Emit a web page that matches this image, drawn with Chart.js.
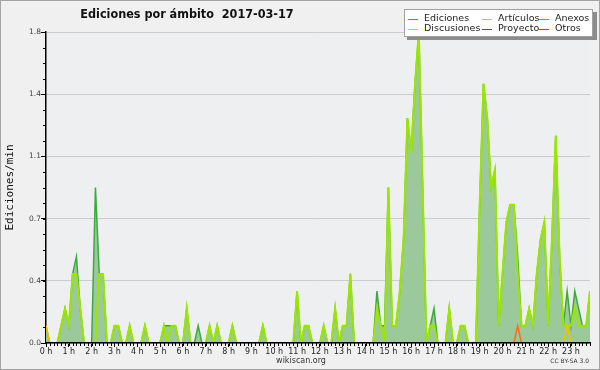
<!DOCTYPE html>
<html>
<head>
<meta charset="utf-8">
<script src="https://cdn.jsdelivr.net/npm/chart.js@4.4.1/dist/chart.umd.min.js"></script>
<style>
  html, body { margin: 0; padding: 0; background: #f0f0f0; }
</style>
</head>
<body>
<canvas id="chart-ediciones" width="600" height="370"></canvas>
<script>
const titleText = 'Ediciones por ámbito  2017-03-17';
const yAxisTitle = 'Ediciones/min';
const footerSite = 'wikiscan.org';
const footerLicense = 'CC BY-SA 3.0';

// one point every 10 minutes, in minutes since 00:00
const slots = Array.from({length: 144}, (_, i) => i * 10);

const hourTicks = [0, 60, 120, 180, 240, 300, 360, 420, 480, 540, 600, 660,
                   720, 780, 840, 900, 960, 1020, 1080, 1140, 1200, 1260, 1320, 1380];
const hourLabels = ['0 h', '1 h', '2 h', '3 h', '4 h', '5 h', '6 h', '7 h', '8 h', '9 h', '10 h', '11 h',
                    '12 h', '13 h', '14 h', '15 h', '16 h', '17 h', '18 h', '19 h', '20 h', '21 h', '22 h', '23 h'];

const yTicks = [0, 0.36, 0.72, 1.08, 1.44, 1.8];
const yTickLabels = ['0.0', '0.4', '0.7', '1.1', '1.4', '1.8'];

// each row = 2 hours (12 slots)
const ediciones = [
  0.1, 0, 0, 0, 0.1, 0.2, 0.1, 0.4, 0.5, 0.2, 0, 0,
  0, 0.9, 0.4, 0.4, 0, 0, 0.1, 0.1, 0, 0, 0.1, 0,
  0, 0, 0.1, 0, 0, 0, 0, 0.1, 0.1, 0.1, 0.1, 0,
  0, 0.2, 0, 0, 0.1, 0, 0, 0.1, 0, 0.1, 0, 0,
  0, 0.1, 0, 0, 0, 0, 0, 0, 0, 0.1, 0, 0,
  0, 0, 0, 0, 0, 0, 0.3, 0, 0.1, 0.1, 0, 0,
  0, 0.1, 0, 0, 0.2, 0, 0.1, 0.1, 0.4, 0, 0, 0,
  0, 0, 0, 0.3, 0.1, 0.1, 0.9, 0.1, 0.1, 0.3, 0.6, 1.3,
  1.1, 1.5, 1.8, 0.9, 0, 0.1, 0.2, 0, 0, 0, 0.2, 0,
  0, 0.1, 0.1, 0, 0, 0, 0.8, 1.5, 1.3, 0.9, 1.0, 0.1,
  0.4, 0.7, 0.8, 0.8, 0.5, 0.1, 0.1, 0.2, 0.1, 0.4, 0.6, 0.7,
  0.1, 0.6, 1.2, 0.5, 0.1, 0.3, 0.1, 0.3, 0.2, 0.1, 0.1, 0.3
];
const articulos = [
  0, 0, 0, 0, 0.1, 0.2, 0.1, 0.4, 0.4, 0.2, 0, 0,
  0, 0, 0.4, 0.4, 0, 0, 0.1, 0.1, 0, 0, 0.1, 0,
  0, 0, 0.1, 0, 0, 0, 0, 0.1, 0, 0.1, 0.1, 0,
  0, 0.2, 0, 0, 0, 0, 0, 0.1, 0, 0.1, 0, 0,
  0, 0.1, 0, 0, 0, 0, 0, 0, 0, 0.1, 0, 0,
  0, 0, 0, 0, 0, 0, 0.3, 0, 0.1, 0.1, 0, 0,
  0, 0.1, 0, 0, 0.2, 0, 0.1, 0.1, 0.4, 0, 0, 0,
  0, 0, 0, 0.2, 0.1, 0, 0.9, 0.1, 0.1, 0.3, 0.6, 1.3,
  1.1, 1.5, 1.8, 0.9, 0, 0.1, 0.1, 0, 0, 0, 0.2, 0,
  0, 0.1, 0.1, 0, 0, 0, 0.8, 1.5, 1.3, 0.9, 1.0, 0.1,
  0.4, 0.7, 0.8, 0.8, 0.4, 0.1, 0.1, 0.2, 0.1, 0.4, 0.6, 0.7,
  0.1, 0.6, 1.2, 0.5, 0.1, 0.1, 0.1, 0.2, 0.1, 0.1, 0.1, 0.3
];
const anexos = [
  0, 0, 0, 0, 0, 0, 0, 0, 0, 0, 0, 0,
  0, 0, 0, 0, 0, 0, 0, 0, 0, 0, 0, 0,
  0, 0, 0, 0, 0, 0, 0, 0, 0, 0, 0, 0,
  0, 0, 0, 0, 0, 0, 0, 0, 0, 0, 0, 0,
  0, 0, 0, 0, 0, 0, 0, 0, 0, 0, 0, 0,
  0, 0, 0, 0, 0, 0, 0, 0, 0, 0, 0, 0,
  0, 0, 0, 0, 0, 0, 0, 0, 0, 0, 0, 0,
  0, 0, 0, 0, 0, 0, 0, 0, 0, 0, 0, 0,
  0, 0, 0, 0, 0, 0, 0, 0, 0, 0, 0, 0,
  0, 0, 0, 0, 0, 0, 0, 0, 0, 0, 0, 0,
  0, 0, 0, 0, 0.1, 0, 0, 0, 0, 0, 0, 0,
  0, 0, 0, 0, 0, 0, 0, 0, 0, 0, 0, 0
];
const discusiones = [
  0.1, 0, 0, 0, 0, 0, 0, 0, 0, 0, 0, 0,
  0, 0, 0, 0, 0, 0, 0, 0, 0, 0, 0, 0,
  0, 0, 0, 0, 0, 0, 0, 0, 0, 0, 0, 0,
  0, 0, 0, 0, 0, 0, 0, 0, 0, 0, 0, 0,
  0, 0, 0, 0, 0, 0, 0, 0, 0, 0, 0, 0,
  0, 0, 0, 0, 0, 0, 0, 0, 0, 0, 0, 0,
  0, 0, 0, 0, 0, 0, 0, 0, 0, 0, 0, 0,
  0, 0, 0, 0, 0, 0, 0, 0, 0, 0, 0, 0,
  0, 0, 0, 0, 0, 0, 0, 0, 0, 0, 0, 0,
  0, 0, 0, 0, 0, 0, 0, 0, 0, 0, 0, 0,
  0, 0, 0, 0, 0, 0, 0, 0, 0, 0, 0, 0,
  0, 0, 0, 0, 0, 0.1, 0, 0, 0, 0, 0, 0
];
const proyecto = new Array(144).fill(0);
const otros = new Array(144).fill(0);

const FONT = "'DejaVu Sans', sans-serif";
const FONT_COND = "'DejaVu Sans Condensed', 'DejaVu Sans', sans-serif";
Chart.defaults.font.family = FONT;

const frame = {
    id: 'frame',
    beforeDraw(chart) {
        const {ctx, chartArea: a} = chart;
        ctx.save();
        ctx.fillStyle = '#f0f0f0';
        ctx.fillRect(0, 0, chart.width, chart.height);
        ctx.strokeStyle = '#a4a4a4';
        ctx.lineWidth = 1;
        ctx.strokeRect(0.5, 0.5, chart.width - 1, chart.height - 1);
        ctx.fillStyle = '#eeeff1';
        ctx.fillRect(a.left, a.top, a.right - a.left, a.bottom - a.top);
        ctx.restore();
    }
};

const extras = {
    id: 'extras',
    afterDraw(chart) {
        const {ctx, chartArea: a} = chart;
        const x = chart.scales.x, y = chart.scales.y;
        ctx.save();
        // minor ticks
        ctx.strokeStyle = '#000';
        ctx.lineWidth = 1;
        ctx.beginPath();
        slots.forEach(v => {
            const px = Math.round(x.getPixelForValue(v)) + 0.5;
            ctx.moveTo(px, a.bottom);
            ctx.lineTo(px, a.bottom + 3);
        });
        for (let k = 0; k <= 20; k++) {
            const py = Math.round(y.getPixelForValue(k * 0.09)) + 0.5;
            ctx.moveTo(a.left, py);
            ctx.lineTo(a.left - 3, py);
        }
        ctx.stroke();

        // title
        ctx.fillStyle = '#111';
        ctx.font = 'bold 12.5px ' + FONT_COND;
        ctx.textAlign = 'center';
        ctx.textBaseline = 'middle';
        ctx.fillText(titleText, 187, 15);

        // footer
        ctx.fillStyle = '#333';
        ctx.font = '8px ' + FONT;
        ctx.fillText(footerSite, 301, 361);
        ctx.font = '6px ' + FONT;
        ctx.textAlign = 'right';
        ctx.fillText(footerLicense, 589, 361);

        // legend box
        ctx.fillStyle = '#8c8c8c';
        ctx.fillRect(407, 12, 190, 28);
        ctx.fillStyle = '#ffffff';
        ctx.fillRect(404, 9, 189, 28);
        ctx.strokeStyle = '#a0a0a0';
        ctx.strokeRect(404.5, 9.5, 188, 27);
        const cols = [408, 482, 539];
        const rows = [19, 29];
        ctx.font = '9.5px ' + FONT;
        ctx.textAlign = 'left';
        chart.data.datasets.forEach((ds, k) => {
            const cx = cols[k % 3], cy = rows[Math.floor(k / 3)];
            ctx.strokeStyle = ds.borderColor;
            ctx.lineWidth = 1;
            ctx.beginPath();
            ctx.moveTo(cx, cy + 0.5);
            ctx.lineTo(cx + 10, cy + 0.5);
            ctx.stroke();
            ctx.fillStyle = '#222';
            ctx.fillText(ds.label, cx + 16, cy);
        });
        ctx.restore();
    }
};

const line = (label, data, color, order, more) => Object.assign({
    label: label,
    data: data,
    borderColor: color,
    backgroundColor: color,
    borderWidth: 1.5,
    pointRadius: 0,
    tension: 0,
    fill: false,
    clip: {left: 0, top: 2, right: 0, bottom: -1},
    order: order,
}, more || {});

new Chart(document.getElementById('chart-ediciones'), {
    type: 'line',
    data: {
        labels: slots,
        datasets: [
            line('Ediciones', ediciones, '#3fa93f', 6, {fill: 'origin', backgroundColor: '#9cc99c'}),
            line('Artículos', articulos, '#9de600', 3, {borderWidth: 2}),
            line('Anexos', anexos, '#ff6a1a', 1),
            line('Discusiones', discusiones, '#f2c200', 2),
            line('Proyecto', proyecto, '#555555', 5),
            line('Otros', otros, '#9933ff', 4),
        ]
    },
    options: {
        responsive: false,
        animation: false,
        layout: {
            padding: {top: 32, right: 10, left: 0, bottom: 0}
        },
        scales: {
            x: {
                type: 'linear',
                min: 0,
                max: 1430,
                z: 1,
                afterBuildTicks: (s) => { s.ticks = hourTicks.map(v => ({value: v})); },
                afterFit: (s) => { s.height = 27; },
                ticks: {
                    autoSkip: false,
                    maxRotation: 0,
                    padding: 0,
                    color: '#222',
                    font: {size: 8},
                    callback: (v, i) => hourLabels[i],
                },
                grid: {
                    drawOnChartArea: false,
                    tickColor: '#000',
                    tickLength: 4,
                },
                border: {color: '#000', width: 1.5},
            },
            y: {
                min: 0,
                max: 1.8,
                afterBuildTicks: (s) => { s.ticks = yTicks.map(v => ({value: v})); },
                afterFit: (s) => { s.width = 46; },
                ticks: {
                    padding: 0,
                    color: '#444',
                    font: {size: 7.5},
                    callback: (v, i) => yTickLabels[i],
                },
                grid: {
                    color: '#cccccc',
                    tickColor: '#000',
                    tickLength: 5,
                    lineWidth: 1,
                },
                border: {color: '#000', width: 1.5},
                title: {
                    display: true,
                    text: yAxisTitle,
                    color: '#111',
                    font: {family: "'DejaVu Sans Mono', monospace", size: 11},
                    padding: {top: 4, bottom: 0},
                },
            }
        },
        plugins: {
            legend: {display: false},
            title: {display: false},
            tooltip: {enabled: false},
        },
    },
    plugins: [frame, extras]
});
</script>
</body>
</html>
